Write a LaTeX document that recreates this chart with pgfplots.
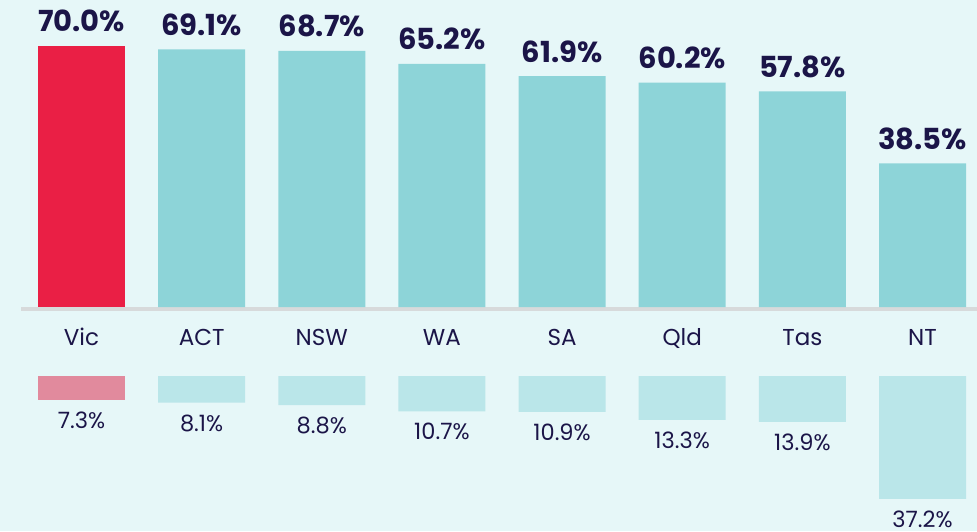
\documentclass[border=0pt]{standalone}
\usepackage{pgfplots}
\pgfplotsset{compat=1.18}
\usepackage{fontspec}
\setmainfont{Poppins}
\definecolor{bg}{HTML}{E6F7F8}
\definecolor{vicred}{HTML}{EA1F45}
\definecolor{tealbar}{HTML}{8DD4D8}
\definecolor{vicpale}{HTML}{E18A9D}
\definecolor{tealpale}{HTML}{BAE6E9}
\definecolor{navy}{HTML}{1B1548}
\definecolor{baseg}{HTML}{D7DADB}
\begin{document}
\begin{tikzpicture}[x=1pt,y=1pt]
\path[use as bounding box, fill=bg] (0,0) rectangle (977,531);
% upper chart
\begin{axis}[
  at={(0pt,224pt)}, anchor=south west, scale only axis,
  width=977pt, height=307pt,
  xmin=-0.6784, xmax=7.4536, ymin=0, ymax=82.33,
  ybar, bar width=0.7242, bar shift=0pt, clip=false,
  axis line style={draw=none}, tick style={draw=none}, major tick length=0pt,
  ytick=\empty,
  xtick={0,...,7}, xticklabels={Vic,ACT,NSW,WA,SA,Qld,Tas,NT},
  xticklabel style={anchor=base, yshift=-38pt, inner sep=0pt,
    font=\fontsize{23}{23}\selectfont, text=navy},
  /pgf/number format/assume math mode=true,
  nodes near coords={\pgfmathprintnumber[fixed,fixed zerofill,precision=1]{\pgfplotspointmeta}\%},
  every node near coord/.append style={anchor=base, inner sep=0pt, yshift=14pt,
    font=\fontsize{29}{29}\selectfont\bfseries, text=navy},
]
\draw[baseg, line width=4pt] ([yshift=-2pt]axis cs:-0.5,0) -- ([yshift=-2pt]axis cs:7.4536,0);
\addplot[fill=vicred, draw=none] coordinates {(0,70.0)};
\addplot[fill=tealbar, draw=none] coordinates {(1,69.1) (2,68.7) (3,65.2) (4,61.9) (5,60.2) (6,57.8) (7,38.5)};
\end{axis}
% lower chart
\begin{axis}[
  at={(0pt,0pt)}, anchor=south west, scale only axis,
  width=977pt, height=155pt,
  xmin=-0.6784, xmax=7.4536, ymin=0, ymax=46.97, y dir=reverse,
  ybar, bar width=0.7242, bar shift=0pt, clip=false,
  hide axis,
  /pgf/number format/assume math mode=true,
  nodes near coords={\pgfmathprintnumber[fixed,fixed zerofill,precision=1]{\pgfplotspointmeta}\%},
  every node near coord/.append style={anchor=base, inner sep=0pt, yshift=-28.5pt,
    font=\fontsize{22.5}{22.5}\selectfont, text=navy},
]
\addplot[fill=vicpale, draw=none] coordinates {(0,7.3)};
\addplot[fill=tealpale, draw=none] coordinates {(1,8.1) (2,8.8) (3,10.7) (4,10.9) (5,13.3) (6,13.9) (7,37.2)};
\end{axis}
\end{tikzpicture}
\end{document}
